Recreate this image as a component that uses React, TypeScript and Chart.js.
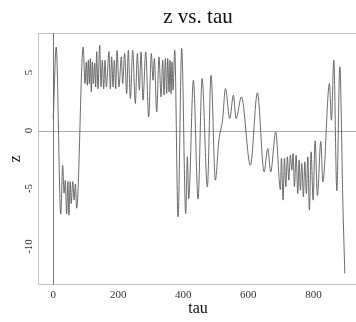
import React, { useEffect, useRef } from "react";
import { Chart, registerables } from "chart.js";

Chart.register(...registerables);

const TITLE = "z vs. tau";
const X_LABEL = "tau";
const Y_LABEL = "z";
const X_TICKS = [0, 200, 400, 600, 800];
const Y_TICKS = [-10, -5, 0, 5];

const TAU = [
  0, 9, 23, 29, 33, 37, 41, 45, 48, 52, 55, 60, 64, 68, 72,
  92, 97.5, 101.6, 104.7, 107.8, 110.9, 113.9, 117, 120.1, 123.2, 127.3, 130.4, 133.4, 137.5,
  142.7, 146.8, 150.9, 155, 159.1, 163.2, 171.4, 175.5, 179.6, 183.7, 187.8, 191.9, 196, 202,
  209.3, 213.4, 219.5, 225.7, 230.8, 237, 244.2, 252.4, 258.5, 264.7, 269.9, 276, 284.2, 293.4,
  301.6, 306.8, 310.9, 318, 325.2, 331.4, 336.5, 340.6, 344.7, 348.8, 351.9, 356, 359.1, 362.2,
  365.2, 368.3, 373.5, 383.7, 395, 407.3, 412.4, 416.5, 430.9, 445.3, 457.6, 473.9, 485.2, 498.5,
  509, 521, 529.4, 542.7, 553.9, 562.2, 578.6, 606.3, 627.8, 648.3, 659.6, 668.8, 684,
  698.5, 701.6, 706.8, 710.8, 715.1, 720, 724.3, 729.2, 733.6, 737.6, 741.6, 746.8, 752, 756,
  760, 764.3, 769.2, 773.6, 778.5, 782.8, 787.7, 792.9, 799.1, 805.2, 812.3, 822.8, 829,
  849.3, 855.4, 862.8, 872, 881.3, 890.5, 896.6,
];

const Z = [
  1.0, 7.2, -7.2, -3.0, -5.4, -4.3, -7.2, -4.4, -7.3, -4.4, -6.3, -4.4, -6.0, -4.6, -6.7,
  7.2, 4.05, 5.9, 3.9, 6.06, 4.05, 6.2, 3.33, 5.9, 4.05, 5.8, 3.76, 6.8, 3.6,
  7.36, 3.76, 6.06, 3.6, 6.06, 3.76, 6.8, 3.6, 6.35, 3.76, 6.06, 3.6, 6.9, 3.76,
  6.35, 4.05, 6.64, 3.19, 6.92, 2.76, 6.92, 2.33, 6.64, 3.48, 6.78, 2.62, 6.78, 1.18,
  6.64, 4.34, 6.21, 1.61, 6.35, 2.9, 6.06, 3.05, 6.21, 3.19, 6.21, 3.33, 6.06, 3.19,
  5.92, 3.48, 6.92, -7.44, 7.07, -7.16, -2.27, -5.86, 4.34, -5.9, 4.48, -4.86, 4.77, -4.28,
  -0.9, 1.0, 3.62, 1.03, 3.05, 1.03, 2.9, -2.99, 3.25, -3.56, -1.55, -3.56, -0.12,
  -5.1, -2.4, -6.0, -2.4, -4.85, -2.27, -4.28, -2.13, -3.42, -1.98, -4.85, -2.13, -5.43, -2.56,
  -5.14, -2.84, -5.72, -2.7, -5.43, -2.27, -6.87, -1.84, -6.0, -0.89, -5.6, -0.95, -4.43,
  4.05, 0.89, 6.06, -5.2, 5.49, -6.15, -12.33,
];

const SERIF = '"Liberation Serif", "DejaVu Serif", serif';

const decorPlugin = {
  id: "decor",
  beforeDatasetsDraw(chart: any) {
    const { ctx, chartArea: a, scales } = chart;
    const xs = scales.x;
    const ys = scales.y;
    ctx.save();
    ctx.lineWidth = 1;
    ctx.strokeStyle = "#c4c4c4";
    ctx.beginPath();
    ctx.moveTo(a.right + 1, a.top + 0.5);
    ctx.lineTo(a.left + 0.5, a.top + 0.5);
    ctx.lineTo(a.left + 0.5, a.bottom - 0.5);
    ctx.lineTo(a.right + 1, a.bottom - 0.5);
    ctx.stroke();
    const x0 = Math.round(xs.getPixelForValue(0)) + 0.5;
    const y0 = Math.round(ys.getPixelForValue(0)) + 0.5;
    ctx.strokeStyle = "#aaaaaa";
    ctx.beginPath();
    ctx.moveTo(a.left, y0);
    ctx.lineTo(a.right, y0);
    ctx.stroke();
    ctx.strokeStyle = "#777777";
    ctx.beginPath();
    ctx.moveTo(x0, a.top);
    ctx.lineTo(x0, a.bottom);
    ctx.stroke();
    ctx.restore();
  },
  afterDraw(chart: any) {
    const { ctx, chartArea: a, scales } = chart;
    const xs = scales.x;
    const ys = scales.y;
    ctx.save();
    ctx.fillStyle = "#111";
    ctx.font = `21px ${SERIF}`;
    ctx.textAlign = "center";
    ctx.textBaseline = "alphabetic";
    ctx.fillText(TITLE, (a.left + a.right) / 2 + 1, 23);
    ctx.font = `11px ${SERIF}`;
    ctx.fillStyle = "#333";
    X_TICKS.forEach((t) => {
      ctx.fillText(String(t), xs.getPixelForValue(t), 297.5);
    });
    ctx.fillStyle = "#111";
    ctx.font = `16px ${SERIF}`;
    ctx.fillText(X_LABEL, (a.left + a.right) / 2 + 1, 313);
    ctx.font = `11px ${SERIF}`;
    ctx.fillStyle = "#333";
    Y_TICKS.forEach((v) => {
      ctx.save();
      ctx.translate(31.5, ys.getPixelForValue(v));
      ctx.rotate(-Math.PI / 2);
      ctx.fillText(String(v), 0, 0);
      ctx.restore();
    });
    ctx.fillStyle = "#111";
    ctx.font = `16px ${SERIF}`;
    ctx.save();
    ctx.translate(20, (a.top + a.bottom) / 2);
    ctx.rotate(-Math.PI / 2);
    ctx.fillText(Y_LABEL, 0, 0);
    ctx.restore();
    ctx.restore();
  },
};

export default function App() {
  const ref = useRef<HTMLCanvasElement | null>(null);
  useEffect(() => {
    if (!ref.current) return;
    const chart = new Chart(ref.current, {
      type: "scatter",
      data: {
        datasets: [
          {
            data: TAU.map((t, i) => ({ x: t, y: Z[i] })),
            showLine: true,
            borderColor: "#5a5a5a",
            borderWidth: 0.9,
            pointRadius: 0,
            cubicInterpolationMode: "monotone",
          } as any,
        ],
      },
      options: {
        responsive: false,
        animation: false,
        devicePixelRatio: 1,
        layout: { padding: { left: 38, top: 33, right: 0, bottom: 37 } },
        scales: {
          x: { type: "linear", min: -47, max: 931, display: false },
          y: { type: "linear", min: -13.32, max: 8.41, display: false },
        },
        plugins: {
          legend: { display: false },
          tooltip: { enabled: false },
          title: { display: false },
        },
      },
      plugins: [decorPlugin],
    });
    return () => chart.destroy();
  }, []);
  return (
    <div style={{ position: "fixed", left: 0, top: 0, width: 356, height: 322, background: "#fff" }}>
      <canvas ref={ref} width={356} height={322} style={{ display: "block" }} />
    </div>
  );
}
